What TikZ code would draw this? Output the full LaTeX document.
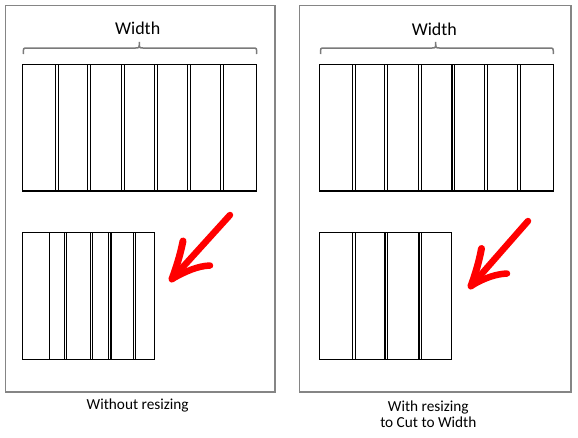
\documentclass[tikz,border=0pt]{standalone}
\usepackage{fontspec}
\setmainfont{Carlito}
\begin{document}
\begin{tikzpicture}[x=1pt,y=-1pt,
  frame/.style={draw=black!48,line width=1.3pt},
  panel/.style={draw=black,line width=1.5pt},
  divider/.style={draw=black,line width=1.3pt},
  bracestyle/.style={draw=black!52,line width=1.5pt},
  redarrow/.style={draw=red,line cap=round,line join=round},
  title/.style={font=\fontsize{18}{20}\selectfont,inner sep=0pt,anchor=center},
  caption/.style={font=\fontsize{15.3}{16}\selectfont,inner sep=0pt,anchor=center,align=center}]
\useasboundingbox (0,0) rectangle (578,437);
\fill[white] (0,0) rectangle (578,437);
% frames
\draw[frame] (5.5,5.5) rectangle (275,392);
\draw[frame] (299.5,5.5) rectangle (571,392);
% titles
\node[title] (wl) at (137.7,28.5) {Width};
\node[title] (wr) at (434.3,29.5) {Width};
% braces
\draw[bracestyle] (23.3,54) .. controls (23.3,48) .. (27,48) -- (135.5,48) .. controls (139.3,48) .. (139.3,42) .. controls (139.3,48) .. (143,48) -- (253,48) .. controls (256.7,48) .. (256.7,54);
\draw[bracestyle] (320.5,54) .. controls (320.5,48) .. (324,48) -- (432,48) .. controls (435.7,48) .. (435.7,42) .. controls (435.7,48) .. (439.5,48) -- (549.5,48) .. controls (553.3,48) .. (553.3,54);
% top left panel
\draw[panel] (22.3,64.3) rectangle (256.7,191);
\foreach \a/\b in {55.3/58.3,87.7/90.7,121.7/124.3,154.3/157.3,187.7/190.7,220.7/223.3}{
  \draw[divider] (\a,64.3) -- (\a,191);
  \draw[divider] (\b,64.3) -- (\b,191);
}
% top right panel
\draw[panel] (319.3,64.3) rectangle (553.3,191);
\foreach \a/\b in {352.7/355.3,384.7/387.3,418.7/421.3,452/454.7,484.7/487.3,517.7/520.3}{
  \draw[divider] (\a,64.3) -- (\a,191);
  \draw[divider] (\b,64.3) -- (\b,191);
}
% bottom left panel
\draw[panel] (22.3,232.3) rectangle (154.3,359.3);
\draw[divider] (49.3,232.3) -- (49.3,359.3);
\foreach \a/\b in {64.3/66.5,90.7/92.8,108.7/110.9,133.3/135.7}{
  \draw[divider] (\a,232.3) -- (\a,359.3);
  \draw[divider] (\b,232.3) -- (\b,359.3);
}
% bottom right panel
\draw[panel] (319.3,232.3) rectangle (451.7,359.3);
\foreach \a/\b in {352.7/355.3,385/387.3,419/421.3}{
  \draw[divider] (\a,232.3) -- (\a,359.3);
  \draw[divider] (\b,232.3) -- (\b,359.3);
}
% red arrows
\coordinate (lt) at (172,279);
\draw[redarrow,line width=6.5pt] (230,215) -- (lt);
\draw[redarrow,line width=7pt] (183,241) .. controls (180,256) and (176,268) .. (lt);
\draw[redarrow,line width=6.5pt] (lt) .. controls (186,271) and (198,266) .. (210,265.5);
\coordinate (rt) at (471,286);
\draw[redarrow,line width=6.5pt] (528,221) -- (rt);
\draw[redarrow,line width=7pt] (481.5,248.5) .. controls (479,262) and (475,275) .. (rt);
\draw[redarrow,line width=6.5pt] (rt) .. controls (484,278) and (496,274) .. (507,273.5);
% captions
\node[caption] (cl) at (137.7,405) {Without resizing};
\node[caption] (cr) at (428.3,414.7) {With resizing\\to Cut to Width};
\end{tikzpicture}
\end{document}
